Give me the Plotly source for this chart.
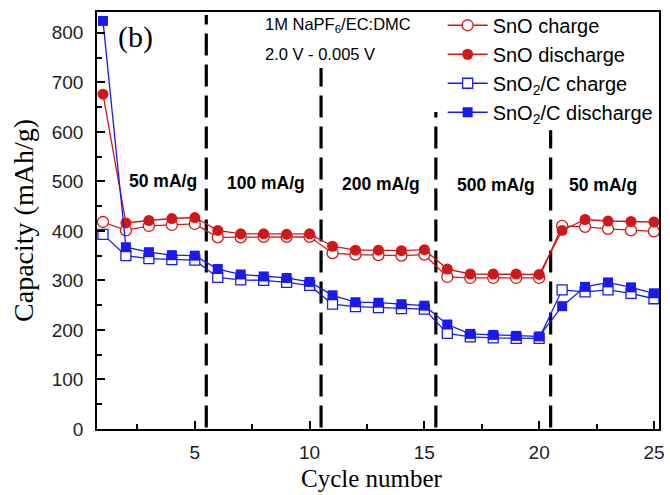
import plotly.graph_objects as go

cycles = list(range(1, 26))

sno_charge = [418, 401, 410, 412, 414, 387, 387, 388, 388, 388,
              355, 352, 351, 350, 352, 307, 305, 305, 305, 305,
              410, 408, 404, 401, 399]
sno_discharge = [676, 416, 421, 425, 427, 401, 394, 394, 393, 394,
                 369, 361, 361, 360, 362, 323, 313, 313, 313, 312,
                 401, 423, 420, 419, 418]
sno2c_charge = [393, 350, 344, 342, 341, 306, 301, 300, 296, 290,
                252, 247, 245, 243, 242, 193, 186, 184, 183, 183,
                281, 277, 281, 274, 263]
sno2c_discharge = [824, 367, 357, 351, 350, 323, 312, 308, 305, 297,
                   270, 256, 255, 252, 249, 211, 192, 190, 188, 187,
                   248, 287, 296, 286, 274]

dividers = [5.5, 10.5, 15.5, 20.5]
divider_tops = [836, 729, 640, 603]

rate_labels = ["50 mA/g", "100 mA/g", "200 mA/g", "500 mA/g", "50 mA/g"]
rate_label_x = [3.6, 8.1, 13.1, 18.1, 22.8]
rate_label_y = [500, 497, 495, 492, 492]

RED = "#d01818"
BLUE = "#1a1aee"

fig = go.Figure()

series = [
    ("SnO charge", sno_charge, RED, "circle-open", 11),
    ("SnO discharge", sno_discharge, RED, "circle", 11),
    ("SnO<sub>2</sub>/C charge", sno2c_charge, BLUE, "square-open", 10),
    ("SnO<sub>2</sub>/C discharge", sno2c_discharge, BLUE, "square", 10),
]
for name, vals, col, sym, sz in series:
    if sym.endswith("open"):
        marker = dict(symbol="circle" if "circle" in sym else "square",
                      size=sz, color="white", line=dict(color=col, width=1.3))
    else:
        marker = dict(symbol=sym, size=sz, color=col, line=dict(color=col, width=0))
    fig.add_trace(go.Scatter(
        x=cycles, y=vals, name=name, mode="lines+markers",
        line=dict(color=col, width=1.3), marker=marker, cliponaxis=False))

for xd, yt in zip(dividers, divider_tops):
    fig.add_shape(type="line", xref="x", yref="y", x0=xd, x1=xd, y0=3, y1=yt,
                  line=dict(color="black", width=3.2, dash="22px,9px"), layer="below")

for t, xx, yy in zip(rate_labels, rate_label_x, rate_label_y):
    fig.add_annotation(x=xx, y=yy, xref="x", yref="y", text="<b>%s</b>" % t,
                       showarrow=False, font=dict(family="Arial, Liberation Sans", size=17.5, color="black"))

fig.add_annotation(xref="paper", yref="paper", x=0.033, y=0.985, xanchor="left", yanchor="top",
                   text="(b)", showarrow=False,
                   font=dict(family="Liberation Serif, Times New Roman", size=30, color="black"))
fig.add_annotation(xref="paper", yref="paper", x=0.296, y=0.998, xanchor="left", yanchor="top",
                   text="1M NaPF<sub>6</sub>/EC:DMC", showarrow=False,
                   font=dict(family="Arial, Liberation Sans", size=16.5, color="black"))
fig.add_annotation(xref="paper", yref="paper", x=0.296, y=0.925, xanchor="left", yanchor="top",
                   text="2.0 V - 0.005 V", showarrow=False,
                   font=dict(family="Arial, Liberation Sans", size=16.5, color="black"))
# x-axis title
fig.add_annotation(xref="paper", yref="paper", x=0.49, y=-0.118, xanchor="center", yanchor="middle",
                   text="Cycle number", showarrow=False,
                   font=dict(family="Liberation Serif, Times New Roman", size=25, color="black"))

axis_common = dict(showline=True, linecolor="black", linewidth=1.5, mirror=True,
                   ticks="inside", ticklen=8, tickwidth=1.5, tickcolor="black",
                   showgrid=False, zeroline=False,
                   tickfont=dict(family="Arial, Liberation Sans", size=19, color="#222"))

fig.update_xaxes(range=[0.74, 25.22], tickvals=[5, 10, 15, 20, 25],
                 ticklabelstandoff=5,
                 minor=dict(tickvals=[2.5, 7.5, 12.5, 17.5, 22.5], ticks="inside",
                            ticklen=5, tickwidth=1.5, tickcolor="black"),
                 **axis_common)
fig.update_yaxes(range=[0, 842], dtick=100,
                 ticklabelstandoff=8,
                 minor=dict(dtick=50, ticks="inside", ticklen=5, tickwidth=1.5, tickcolor="black"),
                 title=dict(text="Capacity (mAh/g)", standoff=10,
                            font=dict(family="Liberation Serif, Times New Roman", size=28, color="black")),
                 **axis_common)

fig.update_layout(
    width=670, height=495,
    margin=dict(l=97, r=6, t=12, b=66),
    plot_bgcolor="white", paper_bgcolor="white",
    legend=dict(x=0.615, y=1.015, xanchor="left", yanchor="top", itemwidth=40,
                bgcolor="rgba(0,0,0,0)", borderwidth=0, tracegroupgap=0,
                font=dict(family="Arial, Liberation Sans", size=20, color="black")),
)

fig.write_html("out.html")
